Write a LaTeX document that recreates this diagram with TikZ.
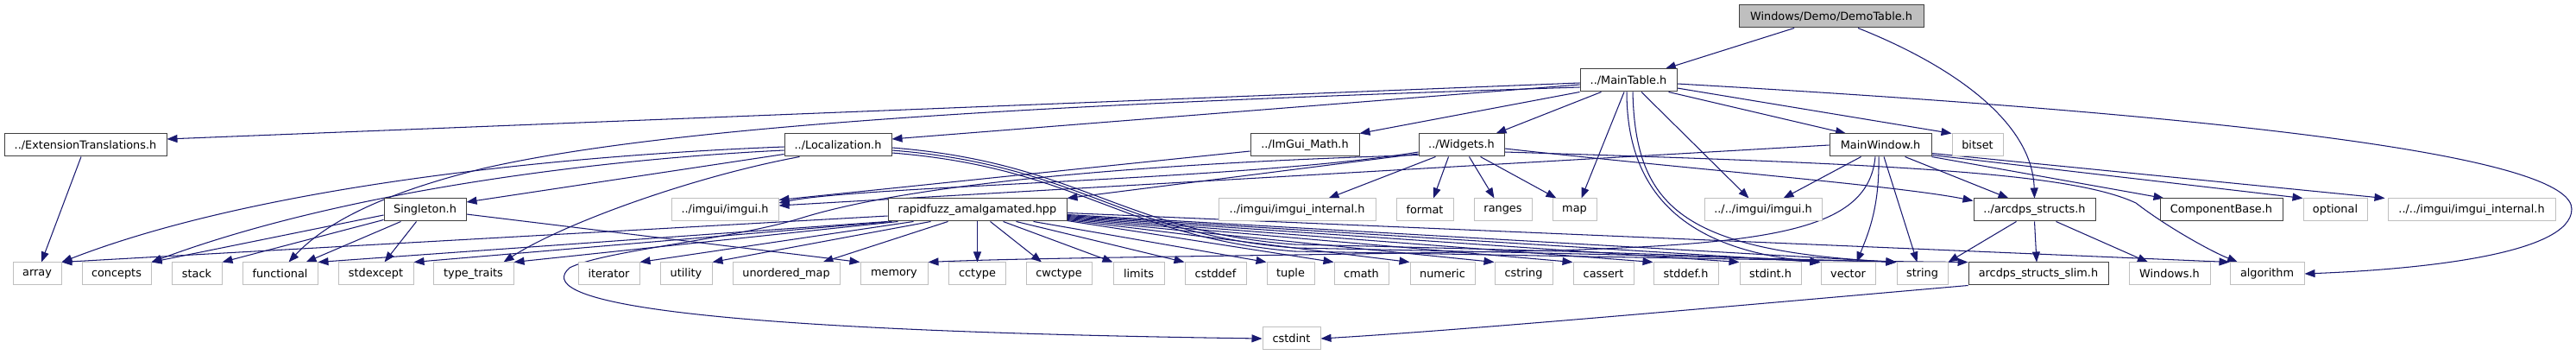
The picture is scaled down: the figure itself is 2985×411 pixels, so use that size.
\documentclass[tikz,border=0pt]{standalone}
\usepackage{fontspec}
\setmainfont{DejaVu Sans}
\usetikzlibrary{arrows.meta,calc}
\definecolor{edgec}{HTML}{191970}
\definecolor{gborder}{HTML}{BFBFBF}
\definecolor{bborder}{HTML}{404040}
\pgfdeclarelayer{bg}
\pgfdeclarelayer{edges}
\pgfsetlayers{bg,edges,main}
\newcommand\mknode[6]{\node[#1,minimum width=#2pt] (#3) at (#4,#5) {#6};}
\begin{document}
\begin{tikzpicture}[x=1pt,y=-1pt,
  nbox/.style={rectangle, inner sep=0pt, minimum height=26pt, line width=1pt, fill=white,
    font=\fontsize{12.85}{15}\selectfont},
  gbx/.style={nbox, draw=gborder},
  bbx/.style={nbox, draw=bborder},
  rbx/.style={nbox, draw=bborder, fill=gborder},
  dep/.style={draw=edgec, line width=1.05pt, -{Triangle[length=12pt,width=9pt]}},
]
\begin{pgfonlayer}{bg}
\fill[white] (0,0) rectangle (2985,411);
\end{pgfonlayer}
\useasboundingbox (0,0) rectangle (2985,411);
% row 0-1
\mknode{rbx}{214}{root}{2122}{19}{Windows/Demo/DemoTable.h}
\mknode{bbx}{112}{maintable}{1887}{93}{../MainTable.h}
% row 2
\mknode{bbx}{188}{ext}{99}{168}{../ExtensionTranslations.h}
\mknode{bbx}{124}{loc}{971}{168}{../Localization.h}
\mknode{bbx}{126}{imguimath}{1512}{168}{../ImGui\_Math.h}
\mknode{bbx}{99}{widgets}{1693.5}{168}{../Widgets.h}
\mknode{bbx}{118}{mainwindow}{2179}{168}{MainWindow.h}
\mknode{gbx}{59}{bitset}{2291.5}{168}{bitset}
% row 3
\mknode{bbx}{95}{singleton}{492.5}{243}{Singleton.h}
\mknode{gbx}{124}{imguia}{840}{243}{../imgui/imgui.h}
\mknode{bbx}{207}{rapidfuzz}{1132.5}{243}{rapidfuzz\_amalgamated.hpp}
\mknode{gbx}{182}{imguiint}{1503}{243}{../imgui/imgui\_internal.h}
\mknode{gbx}{66}{format}{1651}{243}{format}
\mknode{gbx}{67}{ranges}{1741.5}{243}{ranges}
\mknode{gbx}{51}{map}{1824.5}{243}{map}
\mknode{gbx}{136}{imguib}{2043}{243}{../../imgui/imgui.h}
\mknode{bbx}{141}{arcdps}{2357.5}{243}{../arcdps\_structs.h}
\mknode{bbx}{142}{compbase}{2574}{243}{ComponentBase.h}
\mknode{gbx}{74}{optional}{2706}{243}{optional}
\mknode{gbx}{194}{imguiintb}{2864}{243}{../../imgui/imgui\_internal.h}
% row 4
\mknode{gbx}{56}{array}{43}{317}{array}
\mknode{gbx}{80}{concepts}{135}{317}{concepts}
\mknode{gbx}{58}{stack}{228}{317}{stack}
\mknode{gbx}{87}{functional}{324.5}{317}{functional}
\mknode{gbx}{87}{stdexcept}{435.5}{317}{stdexcept}
\mknode{gbx}{93}{typetraits}{548.5}{317}{type\_traits}
\mknode{gbx}{71}{iterator}{705.5}{317}{iterator}
\mknode{gbx}{60}{utility}{795}{317}{utility}
\mknode{gbx}{124}{umap}{911}{317}{unordered\_map}
\mknode{gbx}{78}{memory}{1036}{317}{memory}
\mknode{gbx}{66}{cctype}{1132.5}{317}{cctype}
\mknode{gbx}{76}{cwctype}{1227}{317}{cwctype}
\mknode{gbx}{59}{limits}{1319.5}{317}{limits}
\mknode{gbx}{71}{cstddef}{1408.5}{317}{cstddef}
\mknode{gbx}{55}{tuple}{1495.5}{317}{tuple}
\mknode{gbx}{63}{cmath}{1577.5}{317}{cmath}
\mknode{gbx}{75}{numeric}{1671.5}{317}{numeric}
\mknode{gbx}{67}{cstring}{1765.5}{317}{cstring}
\mknode{gbx}{70}{cassert}{1858}{317}{cassert}
\mknode{gbx}{75}{stddefh}{1953.5}{317}{stddef.h}
\mknode{gbx}{71}{stdinth}{2051.5}{317}{stdint.h}
\mknode{gbx}{63}{vector}{2141.5}{317}{vector}
\mknode{gbx}{59}{string}{2227.5}{317}{string}
\mknode{bbx}{162}{slim}{2362}{317}{arcdps\_structs\_slim.h}
\mknode{gbx}{94}{windows}{2514}{317}{Windows.h}
\mknode{gbx}{86}{algorithm}{2627}{317}{algorithm}
% row 5
\mknode{gbx}{67}{cstdint}{1496.5}{392}{cstdint}

\begin{pgfonlayer}{edges}
% DemoTable
\draw[dep] (root) -- (maintable);
\draw[dep] ($(root.south)+(31,0)$) .. controls (2260,75) and (2355,140) .. (arcdps.north);
% MainTable
\draw[dep] ($(maintable.west)+(0,3)$) -- ($(ext.east)+(0,-7)$);
\draw[dep] ($(maintable.west)+(0,5)$) -- ($(loc.east)+(0,-7)$);
\draw[dep] ($(maintable.west)+(0,8)$) .. controls (1300,118) and (800,140) .. (560,195)
  .. controls (450,222) and (380,255) .. ($(functional.north)+(10,0)$);
\draw[dep] (maintable.south west) -- (imguimath.north east);
\draw[dep] ($(maintable.south west)+(25,0)$) -- ($(widgets.north)+(40,0)$);
\draw[dep] ($(maintable.south east)+(-10,0)$) -- ($(mainwindow.north)+(-40,0)$);
\draw[dep] ($(maintable.east)+(0,9)$) -- (bitset.north west);
\draw[dep] ($(maintable.south)+(-5,0)$) -- ($(map.north)+(8,0)$);
\draw[dep] ($(maintable.south)+(15,0)$) -- ($(imguib.north west)+(52,0)$);
\draw[dep] ($(maintable.south)+(-2,0)$) .. controls (1885,230) and (1960,290) .. (vector.north west);
\draw[dep] ($(maintable.south)+(5,0)$) .. controls (1895,240) and (1950,290) .. (string.north west);
\draw[dep] ($(maintable.east)+(0,4)$) .. controls (2700,140) and (2980,190) .. (2980,242)
  .. controls (2980,295) and (2800,312) .. (algorithm.east);
% ExtensionTranslations
\draw[dep] ($(ext.south)+(-5,0)$) -- ($(array.north)+(5,0)$);
% Localization
\draw[dep] ($(loc.south west)+(0,-3)$) -- ($(singleton.east)+(0,-9)$);
\draw[dep] ($(loc.west)+(0,2)$) .. controls (650,180) and (300,215) .. (array.north east);
\draw[dep] ($(loc.west)+(0,6)$) .. controls (700,184) and (400,220) .. (concepts.north east);
\draw[dep] ($(loc.south west)+(18,0)$) .. controls (800,205) and (650,260) .. ($(typetraits.north)+(35,0)$);
\draw[dep] ($(loc.east)+(0,3)$) .. controls (1250,188) and (1300,268) .. (1500,283)
  .. controls (1800,290) and (2000,296) .. (vector.north west);
\draw[dep] ($(loc.east)+(0,6)$) .. controls (1250,191) and (1300,271) .. (1500,287)
  .. controls (1850,294) and (2050,299) .. (string.north west);
\draw[dep] ($(loc.east)+(0,9)$) .. controls (1250,194) and (1300,274) .. (1500,291)
  .. controls (1900,298) and (2100,302) .. (slim.north west);
% ImGui_Math
\draw[dep] ($(imguimath.west)+(0,7)$) -- ($(imguia.north east)+(0,2)$);
% Widgets
\draw[dep] ($(widgets.west)+(0,10)$) -- (rapidfuzz.north east);
\draw[dep] ($(widgets.west)+(0,8)$) .. controls (1450,208) and (1000,215) .. ($(imguia.east)+(0,-8)$);
\draw[dep] ($(widgets.south west)+(0,-2)$) .. controls (1300,190) and (1050,215) .. (930,252)
  .. controls (850,277) and (700,290) .. (660,310)
  .. controls (620,345) and (750,382) .. (cstdint.west);
\draw[dep] ($(widgets.south west)+(20,0)$) -- ($(imguiint.north east)+(-55,0)$);
\draw[dep] ($(widgets.south)+(-15,0)$) -- ($(format.north)+(10,0)$);
\draw[dep] ($(widgets.south)+(9,0)$) -- ($(ranges.north)+(-10,0)$);
\draw[dep] ($(widgets.south)+(22,0)$) -- ($(map.north west)+(5,0)$);
\draw[dep] ($(widgets.east)+(0,4)$) .. controls (1950,195) and (2200,215) .. ($(arcdps.north west)+(0,3)$);
\draw[dep] ($(widgets.east)+(0,8)$) .. controls (2200,190) and (2400,200) .. (2475,235)
  .. controls (2510,262) and (2560,290) .. ($(algorithm.north)+(-34,0)$);
% MainWindow
\draw[dep] (mainwindow.west) -- ($(imguia.east)+(0,-5)$);
\draw[dep] ($(mainwindow.south west)+(37,0)$) -- ($(imguib.north east)+(-45,0)$);
\draw[dep] ($(mainwindow.south west)+(88,0)$) -- ($(arcdps.north)+(-30,0)$);
\draw[dep] ($(mainwindow.south)+(-2,0)$) .. controls (2178,240) and (2165,270) .. ($(vector.north)+(10,0)$);
\draw[dep] ($(mainwindow.south)+(4,0)$) -- ($(string.north)+(-6,0)$);
\draw[dep] ($(mainwindow.south)+(-6,0)$) .. controls (2165,265) and (2060,282) .. (1800,290)
  .. controls (1500,296) and (1200,298) .. (memory.north east);
\draw[dep] (mainwindow.south east) -- ($(compbase.north west)+(5,0)$);
\draw[dep] ($(mainwindow.south east)+(0,-2)$) -- (optional.north west);
\draw[dep] ($(mainwindow.south east)+(0,-4)$) -- ($(imguiintb.north west)+(-3,0)$);
% Singleton
\draw[dep] ($(singleton.west)+(0,6)$) -- (concepts.north east);
\draw[dep] ($(singleton.south west)+(0,-2)$) -- (stack.north east);
\draw[dep] ($(singleton.south west)+(20,0)$) -- ($(functional.north)+(30,0)$);
\draw[dep] ($(singleton.south west)+(38,0)$) -- ($(stdexcept.north)+(10,0)$);
\draw[dep] ($(singleton.east)+(0,5)$) -- (memory.north west);
% rapidfuzz
\draw[dep] ($(rapidfuzz.west)+(0,7)$) -- (array.north east);
\draw[dep] (rapidfuzz.south west) -- (functional.north east);
\draw[dep] ($(rapidfuzz.south west)+(5,0)$) -- (stdexcept.north east);
\draw[dep] ($(rapidfuzz.south west)+(12,0)$) -- (typetraits.north east);
\draw[dep] ($(rapidfuzz.south west)+(30,0)$) -- (iterator.north east);
\draw[dep] ($(rapidfuzz.south west)+(50,0)$) -- (utility.north east);
\draw[dep] ($(rapidfuzz.south west)+(70,0)$) -- ($(umap.north east)+(-20,0)$);
\draw[dep] (rapidfuzz.south) -- (cctype.north);
\draw[dep] ($(rapidfuzz.south)+(15,0)$) -- ($(cwctype.north)+(-20,0)$);
\draw[dep] ($(rapidfuzz.south)+(30,0)$) -- (limits.north west);
\draw[dep] ($(rapidfuzz.south)+(45,0)$) -- (cstddef.north west);
\draw[dep] ($(rapidfuzz.south)+(65,0)$) -- (tuple.north west);
\draw[dep] ($(rapidfuzz.south east)+(0,-1)$) -- (cmath.north west);
\draw[dep] ($(rapidfuzz.south east)+(0,-2)$) -- (numeric.north west);
\draw[dep] ($(rapidfuzz.south east)+(0,-3)$) -- (cstring.north west);
\draw[dep] ($(rapidfuzz.south east)+(0,-4)$) -- (cassert.north west);
\draw[dep] ($(rapidfuzz.south east)+(0,-5)$) -- (stddefh.north west);
\draw[dep] ($(rapidfuzz.south east)+(0,-6)$) -- (stdinth.north west);
\draw[dep] ($(rapidfuzz.south east)+(0,-7)$) -- (vector.north west);
\draw[dep] ($(rapidfuzz.south east)+(0,-8)$) -- (string.north west);
\draw[dep] ($(rapidfuzz.south east)+(0,-10)$) -- (algorithm.north west);
% arcdps_structs
\draw[dep] ($(arcdps.south west)+(50,0)$) -- (string.north east);
\draw[dep] (arcdps.south) -- ($(slim.north)+(-2,0)$);
\draw[dep] ($(arcdps.south)+(25,0)$) -- ($(windows.north)+(-25,0)$);
% arcdps_structs_slim
\draw[dep] (slim.south west) .. controls (2000,355) and (1700,382) .. (cstdint.east);
\end{pgfonlayer}
\end{tikzpicture}
\end{document}
